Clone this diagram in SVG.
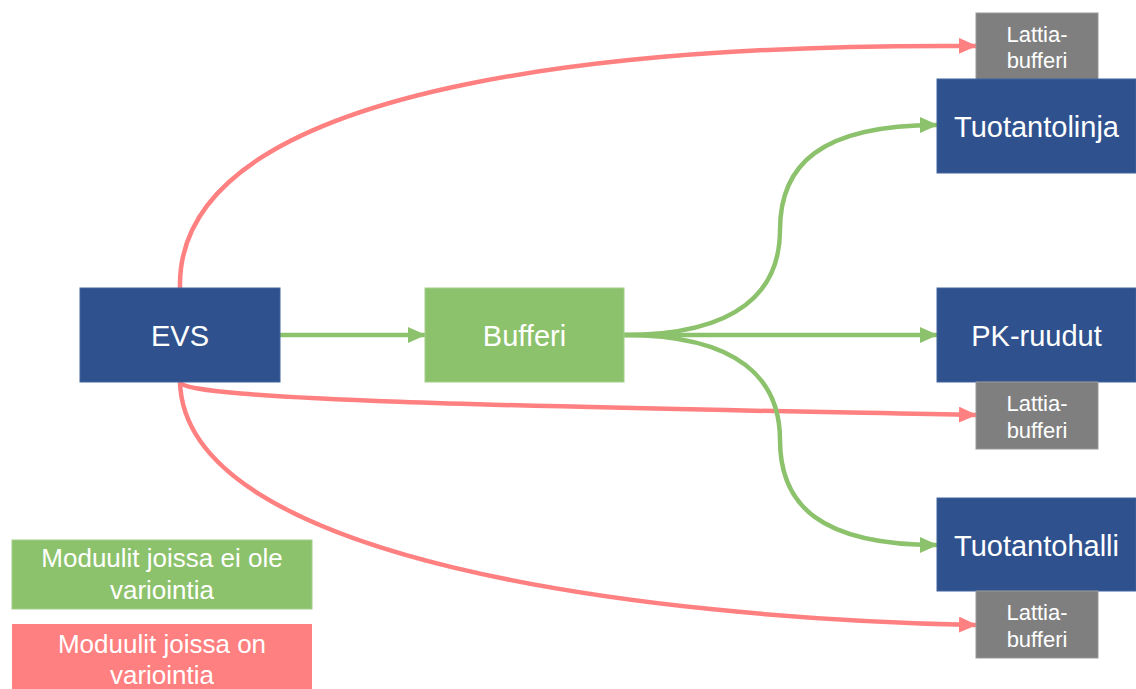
<svg xmlns="http://www.w3.org/2000/svg" width="1136" height="689" viewBox="0 0 1136 689">
  <style>
    .navy { fill: #2F528F; stroke: #41649F; stroke-width: 1; }
    .green { fill: #8DC26D; stroke: #A3CF87; stroke-width: 1; }
    .gray { fill: #7F7F7F; stroke: #999999; stroke-width: 1; }
    .red { fill: #FF8080; }
    .label { font-family: "Liberation Sans", Arial, sans-serif; fill: #FFFFFF; text-anchor: middle; }
    .big { font-size: 29px; }
    .small { font-size: 22px; }
    .legend { font-size: 26px; }
    .g-line { fill: none; stroke: #8DC26D; stroke-width: 4.5; }
    .r-line { fill: none; stroke: #FF8080; stroke-width: 4.5; }
  </style>
  <defs>
    <marker id="arrow-green" markerUnits="userSpaceOnUse" markerWidth="18" markerHeight="16" refX="17" refY="8" orient="auto">
      <path d="M0,0 L18,8 L0,16 Z" fill="#8DC26D"/>
    </marker>
    <marker id="arrow-red" markerUnits="userSpaceOnUse" markerWidth="18" markerHeight="16" refX="17" refY="8" orient="auto">
      <path d="M0,0 L18,8 L0,16 Z" fill="#FF8080"/>
    </marker>
  </defs>

  <g id="connectors">
    <path class="r-line" d="M180,288 C175,70 680,44 976,46" marker-end="url(#arrow-red)"/>
    <path class="r-line" d="M180,382 C182,402 620,408 976,415" marker-end="url(#arrow-red)"/>
    <path class="r-line" d="M180,382 C185,560 640,618 976,625" marker-end="url(#arrow-red)"/>
    <path class="g-line" d="M280,335 L425,335" marker-end="url(#arrow-green)"/>
    <path class="g-line" d="M624,335 L937,335" marker-end="url(#arrow-green)"/>
    <path class="g-line" d="M624,335 C740,335 780,290 780,230 C780,165 820,125 937,125" marker-end="url(#arrow-green)"/>
    <path class="g-line" d="M624,335 C740,335 780,380 780,440 C780,505 820,545 937,545" marker-end="url(#arrow-green)"/>
  </g>

  <g id="evs">
    <rect class="navy" x="80" y="288" width="200" height="94"/>
    <text class="label big" x="180" y="346">EVS</text>
  </g>
  <g id="bufferi">
    <rect class="green" x="425" y="288" width="199" height="94"/>
    <text class="label big" x="524.5" y="346">Bufferi</text>
  </g>
  <g id="lattia-top">
    <rect class="gray" x="976" y="13" width="122" height="67"/>
    <text class="label small" x="1037" y="42">Lattia-</text>
    <text class="label small" x="1037" y="68">bufferi</text>
  </g>
  <g id="tuotantolinja">
    <rect class="navy" x="937" y="79" width="199" height="94"/>
    <text class="label big" x="1036.5" y="137">Tuotantolinja</text>
  </g>
  <g id="pk-ruudut">
    <rect class="navy" x="937" y="288" width="199" height="94"/>
    <text class="label big" x="1036.5" y="346">PK-ruudut</text>
  </g>
  <g id="lattia-mid">
    <rect class="gray" x="976" y="382" width="122" height="67"/>
    <text class="label small" x="1037" y="411">Lattia-</text>
    <text class="label small" x="1037" y="438">bufferi</text>
  </g>
  <g id="tuotantohalli">
    <rect class="navy" x="937" y="498" width="199" height="93"/>
    <text class="label big" x="1036.5" y="556">Tuotantohalli</text>
  </g>
  <g id="lattia-bottom">
    <rect class="gray" x="976" y="591" width="122" height="67"/>
    <text class="label small" x="1037" y="620">Lattia-</text>
    <text class="label small" x="1037" y="647">bufferi</text>
  </g>

  <g id="legend-no-variation">
    <rect class="green" x="12" y="540" width="300" height="69"/>
    <text class="label legend" x="162" y="567">Moduulit joissa ei ole</text>
    <text class="label legend" x="162" y="599">variointia</text>
  </g>
  <g id="legend-variation">
    <rect class="red" x="12" y="624" width="300" height="70"/>
    <text class="label legend" x="162" y="653">Moduulit joissa on</text>
    <text class="label legend" x="162" y="684">variointia</text>
  </g>
</svg>
